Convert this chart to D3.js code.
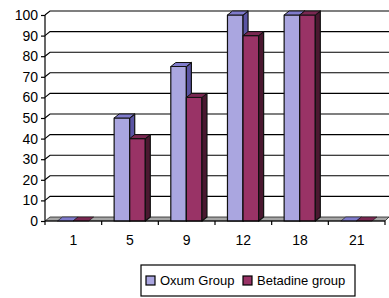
<!DOCTYPE html>
<html>
<head>
<meta charset="utf-8">
<script src="https://cdn.jsdelivr.net/npm/d3@7"></script>
<style>
  body { margin: 0; background: #fff; }
  text { font-family: "Liberation Sans", Arial, sans-serif; font-size: 13px; fill: #000; }
</style>
</head>
<body>
<svg id="chart" width="389" height="298"></svg>
<script>
var categories = ["1", "5", "9", "12", "18", "21"];
var oxum      = [0, 50, 75, 100, 100, 0];
var betadine  = [0, 40, 60, 90, 100, 0];
var yTicks    = [0, 10, 20, 30, 40, 50, 60, 70, 80, 90, 100];
var seriesNames = ["Oxum Group", "Betadine group"];

var W = 389, H = 298;
var svg = d3.select("#chart");

var pLeft = 45, pRight = 385, pBottom = 221, pTop = 15;
var dx = 5, dy = -4;   // depth offset

var x = d3.scaleBand().domain(categories).range([pLeft, pRight]).paddingInner(0).paddingOuter(0);
var y = d3.scaleLinear().domain([0, 100]).range([pBottom, pTop]);

var colors = [
  { front: "#aaa6e0", top: "#7f7bcc", side: "#5a54a3" },
  { front: "#993366", top: "#7a2852", side: "#4a1830" }
];

// gridlines on back wall
var grid = svg.append("g");
yTicks.forEach(function(t) {
  if (t === 0) return;
  grid.append("path")
    .attr("d", "M" + pLeft + "," + y(t) + "L" + (pLeft + dx) + "," + (y(t) + dy) + "L" + W + "," + (y(t) + dy))
    .attr("fill", "none")
    .attr("stroke", "#000")
    .attr("stroke-width", 1.1);
});

// floor
svg.append("path")
  .attr("d", "M" + pLeft + "," + pBottom + "L" + (pLeft + dx) + "," + (pBottom + dy) +
             "L" + W + "," + (pBottom + dy) + "L" + pRight + "," + pBottom + "Z")
  .attr("fill", "#a6a6a6")
  .attr("stroke", "#222")
  .attr("stroke-width", 0.8);

// bars
var bw = x.bandwidth() * 0.275;
var offset = x.bandwidth() * 0.22;
var bars = svg.append("g");
categories.forEach(function(c, i) {
  [oxum[i], betadine[i]].forEach(function(v, s) {
    var x0 = x(c) + offset + s * bw;
    var x1 = x0 + bw;
    var yt = y(v), yb = y(0);
    var col = colors[s];
    var g = bars.append("g").attr("stroke", "#111").attr("stroke-width", 1.2).attr("stroke-linejoin", "round");
    if (v > 0) {
      g.append("rect")
        .attr("x", x0).attr("y", yt)
        .attr("width", bw).attr("height", yb - yt)
        .attr("fill", col.front);
      g.append("path")
        .attr("d", "M" + x1 + "," + yt + "L" + (x1 + dx) + "," + (yt + dy) +
                   "L" + (x1 + dx) + "," + (yb + dy) + "L" + x1 + "," + yb + "Z")
        .attr("fill", col.side);
    }
    g.append("path")
      .attr("d", "M" + x0 + "," + yt + "L" + (x0 + dx) + "," + (yt + dy) +
                 "L" + (x1 + dx) + "," + (yt + dy) + "L" + x1 + "," + yt + "Z")
      .attr("fill", col.top)
      .attr("stroke-width", v > 0 ? 1 : 0.6);
  });
});

// y axis
var yAxis = d3.axisLeft(y).tickValues(yTicks).tickSize(4).tickPadding(3);
var ya = svg.append("g").attr("transform", "translate(" + pLeft + ",0)").call(yAxis);
ya.select(".domain").attr("stroke", "#000").attr("stroke-width", 1.2).attr("d", "M0," + pTop + "V" + pBottom);
ya.selectAll(".tick line").attr("stroke", "#000").attr("stroke-width", 1.2);
ya.selectAll("text").attr("font-size", null).attr("font-family", null).style("font-size", "14px");

// x axis
var xa = svg.append("g");
xa.append("line").attr("x1", pLeft).attr("x2", pRight).attr("y1", pBottom).attr("y2", pBottom)
  .attr("stroke", "#000").attr("stroke-width", 1.2);
var edges = categories.map(function(c) { return x(c); }).concat([pRight]);
xa.selectAll(".xt").data(edges).enter().append("line")
  .attr("x1", function(d) { return d; }).attr("x2", function(d) { return d; })
  .attr("y1", pBottom).attr("y2", pBottom + 4)
  .attr("stroke", "#000").attr("stroke-width", 1.2);
xa.selectAll(".xl").data(categories).enter().append("text")
  .attr("x", function(d) { return x(d) + x.bandwidth() / 2; })
  .attr("y", pBottom + 24)
  .attr("text-anchor", "middle")
  .style("font-size", "14px")
  .text(function(d) { return d; });

// legend
var leg = svg.append("g");
leg.append("rect").attr("x", 141).attr("y", 265).attr("width", 214).attr("height", 31)
  .attr("fill", "#fff").attr("stroke", "#000").attr("stroke-width", 1.2);
var legX = [146, 243];
seriesNames.forEach(function(n, i) {
  leg.append("rect").attr("x", legX[i]).attr("y", 276).attr("width", 9).attr("height", 9)
    .attr("fill", colors[i].front).attr("stroke", "#000").attr("stroke-width", 1.2);
  leg.append("text").attr("x", legX[i] + 14).attr("y", 285).text(n);
});
</script>
</body>
</html>
